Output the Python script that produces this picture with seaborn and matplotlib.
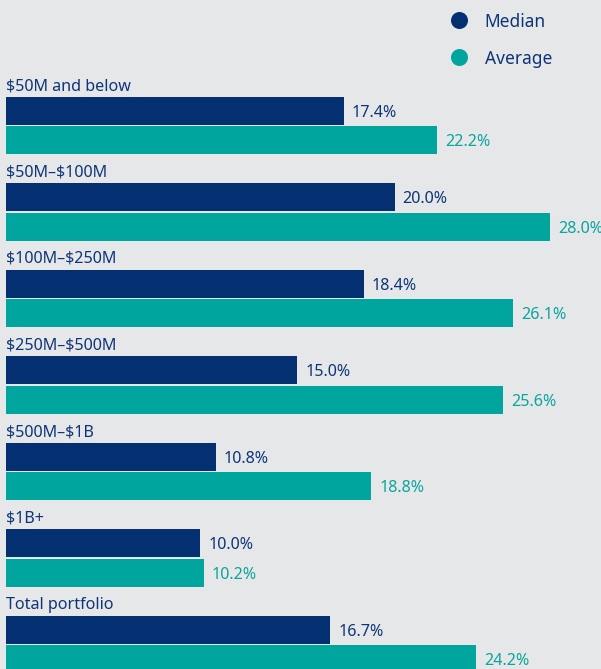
import matplotlib
matplotlib.use("Agg")
import matplotlib.pyplot as plt
import seaborn as sns
import pandas as pd

# Returns by fund size bucket
categories = ["$50M and below", "$50M–$100M", "$100M–$250M", "$250M–$500M",
              "$500M–$1B", "$1B+", "Total portfolio"]
median = [17.4, 20.0, 18.4, 15.0, 10.8, 10.0, 16.7]
average = [22.2, 28.0, 26.1, 25.6, 18.8, 10.2, 24.2]
series = ["Median", "Average"]

NAVY = "#042f70"
TEAL = "#00a59d"
NAVY_TXT = "#0e3577"
TEAL_TXT = "#0aa59d"
BG = "#e6e7e9"

df = pd.DataFrame({
    "category": categories * 2,
    "value": median + average,
    "series": [series[0]] * len(categories) + [series[1]] * len(categories),
})

sns.set_theme(style="white")
plt.rcParams["font.family"] = ["Noto Sans", "DejaVu Sans"]

W, H, DPI = 601, 669, 100
fig = plt.figure(figsize=(W / DPI, H / DPI), dpi=DPI, facecolor=BG)
ax = fig.add_axes([0, 0, 1, 1], facecolor=BG)

sns.barplot(data=df, y="category", x="value", hue="series", order=categories,
            hue_order=series, orient="h", palette=[NAVY, TEAL], saturation=1,
            width=0.682, gap=0.05, legend=False, linewidth=0, ax=ax)

# pixel scale: 19.43 px per percentage point, 86.5 px per category row
PX_X = 19.43
PX_Y = 86.5
x0_px, y0_px = 6.0, 125.5
ax.set_xlim(-x0_px / PX_X, (W - x0_px) / PX_X)
ax.set_ylim((H - y0_px) / PX_Y, -y0_px / PX_Y)
ax.axis("off")

# category labels above each pair of bars
for i, cat in enumerate(categories):
    ax.text(0.02, i - 35.5 / PX_Y, cat, ha="left", va="baseline",
            fontsize=11.6, color=NAVY_TXT, parse_math=False)

# value labels right of each bar
for cont, col in zip(ax.containers, [NAVY_TXT, TEAL_TXT]):
    for p in cont.patches:
        v = p.get_width()
        yc = p.get_y() + p.get_height() / 2
        ax.text(v + 7.8 / PX_X, yc + 6.0 / PX_Y, f"{v:.1f}%", ha="left",
                va="baseline", fontsize=11.6, color=col, clip_on=False)

# legend
leg_y = [20.0, 57.3]
for name, col, yp in zip(series, [NAVY, TEAL], leg_y):
    ax.scatter([459.3 / W], [1 - yp / H], s=150, color=col, marker="o",
               transform=ax.transAxes, clip_on=False, linewidths=0)
    ax.text(484.8 / W, 1 - (yp + 7.0) / H, name, transform=ax.transAxes,
            ha="left", va="baseline", fontsize=12.5, color=NAVY_TXT)

fig.savefig("out.png", dpi=DPI, facecolor=BG)
